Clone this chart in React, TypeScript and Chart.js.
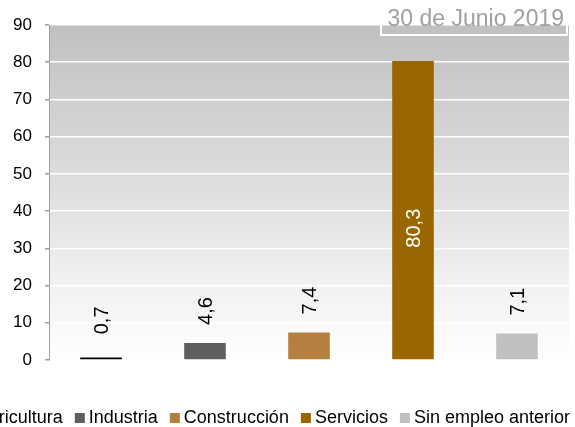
import React, { useEffect, useRef } from "react";
import { Chart, registerables } from "chart.js";

Chart.register(...registerables);

const categories = ["Agricultura", "Industria", "Construcción", "Servicios", "Sin empleo anterior"];
const values = [0.7, 4.6, 7.4, 80.3, 7.1];
const valueLabels = ["0,7", "4,6", "7,4", "80,3", "7,1"];
const barColors = ["#000000", "#5f5f5f", "#b5803f", "#996600", "#c0c0c0"];
const yTicks = [0, 10, 20, 30, 40, 50, 60, 70, 80, 90];
const titleText = "30 de Junio 2019";

const FONT = '"Liberation Sans", Arial, sans-serif';

const bgPlugin = {
  id: "bgGradient",
  beforeDraw(chart: any) {
    const { ctx, chartArea } = chart;
    if (!chartArea) return;
    const g = ctx.createLinearGradient(0, chartArea.top, 0, chartArea.bottom);
    g.addColorStop(0, "#c0c0c0");
    g.addColorStop(1, "#ffffff");
    ctx.save();
    ctx.fillStyle = g;
    ctx.fillRect(chartArea.left + 1, chartArea.top, chartArea.right - chartArea.left - 1, chartArea.bottom - chartArea.top);
    ctx.restore();
  },
};

const labelPlugin = {
  id: "rotLabels",
  afterDatasetsDraw(chart: any) {
    const { ctx } = chart;
    const meta = chart.getDatasetMeta(0);
    ctx.save();
    ctx.font = `20px ${FONT}`;
    meta.data.forEach((bar: any, i: number) => {
      const txt = valueLabels[i];
      const inside = values[i] > 50;
      ctx.save();
      if (inside) {
        const cy = (bar.y + bar.base) / 2 + 18;
        ctx.translate(bar.x + 1, cy);
        ctx.rotate(-Math.PI / 2);
        ctx.fillStyle = "#ffffff";
        ctx.textAlign = "center";
        ctx.textBaseline = "middle";
        ctx.fillText(txt, 0, 0);
      } else {
        ctx.translate(bar.x + 1, Math.min(bar.y - 18, bar.base - 25));
        ctx.rotate(-Math.PI / 2);
        ctx.fillStyle = "#000000";
        ctx.textAlign = "left";
        ctx.textBaseline = "middle";
        ctx.fillText(txt, 0, 0);
      }
      ctx.restore();
    });
    ctx.restore();
  },
};

const decorPlugin = {
  id: "decor",
  afterDraw(chart: any) {
    const { ctx } = chart;
    ctx.save();
    // title box
    ctx.strokeStyle = "#ffffff";
    ctx.lineWidth = 2;
    ctx.strokeRect(381, 4, 186, 31);
    ctx.fillStyle = "#a0a0a0";
    ctx.font = `23px ${FONT}`;
    ctx.textAlign = "right";
    ctx.textBaseline = "alphabetic";
    ctx.fillText(titleText, 564, 26);

    // legend
    ctx.font = `18px ${FONT}`;
    ctx.textBaseline = "middle";
    ctx.textAlign = "left";
    const box = 10;
    const gapBox = 4;
    const gapItem = 12;
    const widths = categories.map((c) => box + gapBox + ctx.measureText(c).width);
    const total = widths.reduce((a, b) => a + b, 0) + gapItem * (categories.length - 1);
    let x = 570 - total;
    const y = 418;
    categories.forEach((c, i) => {
      ctx.fillStyle = barColors[i];
      ctx.fillRect(x, y - box / 2, box, box);
      ctx.fillStyle = "#000000";
      ctx.fillText(c, x + box + gapBox, y + 0.5);
      x += widths[i] + gapItem;
    });
    ctx.restore();
  },
};

export default function App() {
  const ref = useRef<HTMLCanvasElement | null>(null);
  useEffect(() => {
    document.body.style.margin = "0";
    const canvas = ref.current;
    if (!canvas) return;
    const chart = new Chart(canvas, {
      type: "bar",
      data: {
        labels: categories,
        datasets: [
          {
            data: values,
            backgroundColor: barColors,
            borderWidth: 0,
            barPercentage: 0.4,
            categoryPercentage: 1,
          },
        ],
      },
      options: {
        responsive: false,
        animation: false,
        layout: { padding: { left: 0, right: 6, top: 25, bottom: 67 } },
        plugins: {
          legend: { display: false },
          tooltip: { enabled: false },
          title: { display: false },
        },
        scales: {
          x: { display: false },
          y: {
            min: 0,
            max: 90,
            afterFit(scale: any) {
              scale.width = 49;
            },
            afterBuildTicks(scale: any) {
              scale.ticks = yTicks.map((v) => ({ value: v }));
            },
            ticks: {
              color: "#000000",
              font: { family: FONT, size: 17 },
              padding: 13,
            },
            grid: {
              color: "#ffffff",
              lineWidth: 1.5,
              tickColor: "#a0a0a0",
              tickLength: 4,
            },
            border: { display: true, color: "#a0a0a0", width: 1 },
          },
        },
      },
      plugins: [bgPlugin, labelPlugin, decorPlugin],
    });
    return () => chart.destroy();
  }, []);
  return (
    <div style={{ position: "absolute", left: 0, top: 0, width: 575, height: 427 }}>
      <canvas ref={ref} width={575} height={427} style={{ display: "block" }} />
    </div>
  );
}
